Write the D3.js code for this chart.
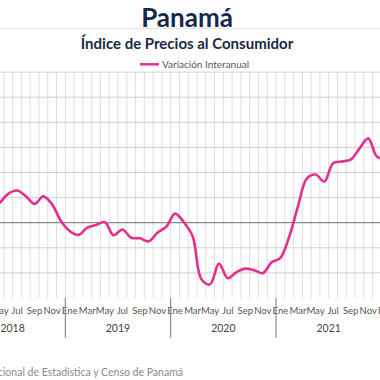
<!DOCTYPE html>
<html><head><meta charset="utf-8">
<script src="https://cdn.jsdelivr.net/npm/d3@7"></script>
<style>
html,body{margin:0;padding:0;background:#fff;overflow:hidden}
text{font-family:Lato,"Open Sans",sans-serif}
</style></head>
<body><svg id="c" width="380" height="380"></svg>
<script>
const meses = ["Ene","Feb","Mar","Abr","May","Jun","Jul","Ago","Sep","Oct","Nov","Dic"];
const anios = [2018, 2019, 2020, 2021, 2022];
const variacion2018 = [0.30, 0.30, 0.40, 0.50, 0.78, 1.15, 1.28, 1.06, 0.75, 1.05, 0.73, 0.07];
const variacion2019 = [-0.33, -0.49, -0.20, -0.09, 0.02, -0.50, -0.27, -0.60, -0.62, -0.74, -0.40, -0.16];
const variacion2020 = [0.36, 0.02, -0.54, -2.25, -2.45, -1.63, -2.21, -1.97, -1.83, -1.89, -2.01, -1.58];
const variacion2021 = [-1.40, -0.56, 0.65, 1.76, 1.92, 1.64, 2.37, 2.44, 2.51, 2.95, 3.36, 2.63];
const variacion2022 = [2.55];
const yTicks = [-2, -1, 0, 1, 2, 3, 4, 5, 6];
const titulo = "Panamá";
const subtitulo = "Índice de Precios al Consumidor";
const serieNombre = "Variación Interanual";
const fuente = "Fuente: Instituto Nacional de Estadística y Censo de Panamá";

const series = [variacion2018, variacion2019, variacion2020, variacion2021, variacion2022];
const data = [];
series.forEach((arr, i) => arr.forEach((v, m) => data.push({key: anios[i] + "-" + m, year: anios[i], m, v})));

const svg = d3.select("#c");
const W = 380;
const plotTop = 72.1, plotBottom = 298;
const step = 8.78;
const x0 = 65.3 - 12 * step;
const x = d3.scaleBand().domain(data.map(d => d.key)).range([x0, x0 + data.length * step]).padding(0);
const y = d3.scaleLinear().domain([-3, 6]).range([plotBottom, plotTop]);
const xc = d => x(d.key) + x.bandwidth() / 2;

// title
svg.append("text").attr("x", 187).attr("y", 27).attr("text-anchor", "middle")
  .attr("font-size", 26).attr("font-weight", 700).attr("fill", "#14294a").text(titulo);
svg.append("line").attr("x1", 0).attr("x2", W).attr("y1", 28.5).attr("y2", 28.5).attr("stroke", "#e3e3e3");
svg.append("text").attr("x", 187).attr("y", 48.5).attr("text-anchor", "middle")
  .attr("font-size", 15).attr("font-weight", 700).attr("fill", "#1b2a44").text(subtitulo);

// legend
svg.append("line").attr("x1", 140).attr("x2", 159).attr("y1", 64.3).attr("y2", 64.3)
  .attr("stroke", "#e62e8f").attr("stroke-width", 2.5);
svg.append("text").attr("x", 162).attr("y", 68).attr("font-size", 10).attr("fill", "#555").text(serieNombre);

// grid
const g = svg.append("g");
const bounds = data.map(d => x(d.key)).concat([x0 + data.length * step]);
g.selectAll("line.v").data(bounds).join("line")
  .attr("x1", d => d).attr("x2", d => d).attr("y1", plotTop).attr("y2", plotBottom)
  .attr("stroke", "#dedede").attr("stroke-width", 1);
g.selectAll("line.h").data(yTicks).join("line")
  .attr("x1", 0).attr("x2", W).attr("y1", d => y(d)).attr("y2", d => y(d))
  .attr("stroke", d => d === 0 ? "#8a8a8a" : "#cfcfcf").attr("stroke-width", d => d === 0 ? 1.3 : 1);

// line
const line = d3.line().x(xc).y(d => y(d.v)).curve(d3.curveCatmullRom.alpha(0.5));
svg.append("path").datum(data).attr("d", line).attr("fill", "none")
  .attr("stroke", "#e62e8f").attr("stroke-width", 2.6).attr("stroke-linejoin", "round");

// x axis month labels (only those reaching into the visible frame)
svg.selectAll("text.mes").data(data.filter(d => d.m % 2 === 0 && xc(d) > -8 && xc(d) < W + 8)).join("text")
  .attr("x", xc).attr("y", 314).attr("text-anchor", "middle")
  .attr("font-size", 9.5).attr("fill", "#555").text(d => meses[d.m]);

// year separators and labels
const yearStart = anios.map(a => x(a + "-0"));
svg.selectAll("line.sep").data(yearStart.filter(v => v !== undefined)).join("line")
  .attr("x1", d => d).attr("x2", d => d).attr("y1", plotBottom).attr("y2", 338)
  .attr("stroke", "#777").attr("stroke-width", 1);
svg.selectAll("text.anio").data(anios.slice(0, 4)).join("text")
  .attr("x", a => x(a + "-0") + 6 * step).attr("y", 332).attr("text-anchor", "middle")
  .attr("font-size", 10.5).attr("fill", "#444").text(a => a);

// source
svg.append("text").attr("x", 183).attr("y", 376).attr("text-anchor", "end")
  .attr("font-size", 10.5).attr("fill", "#8a8a8a").text(fuente);
</script></body></html>
